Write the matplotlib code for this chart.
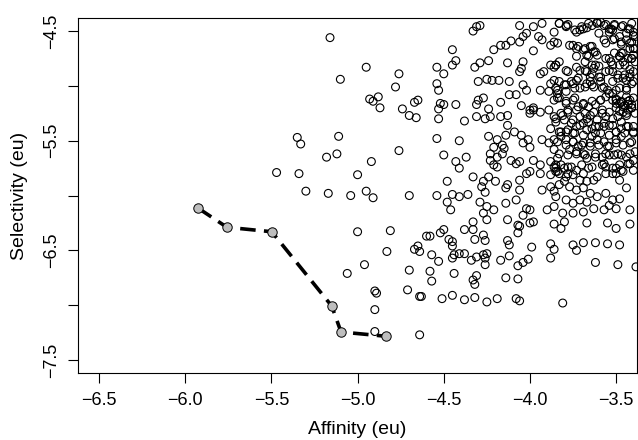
import numpy as np
import matplotlib as mpl
import matplotlib.pyplot as plt

plt.rcParams.update({
    'font.family': ['Liberation Sans', 'DejaVu Sans'],
    'axes.linewidth': 0.8,
})

# ----------------------------------------------------------------------
# data
# ----------------------------------------------------------------------
# sparse points on the left
sparse_x = [-5.35, -5.33, -5.47, -5.34, -5.30,
            -5.16, -4.95, -5.10, -4.76, -4.78, -4.93, -4.91, -4.88, -4.87,
            -4.74, -4.70, -4.66, -4.67, -4.65, -5.11, -5.18, -5.12, -4.92,
            -4.76, -5.00, -5.17, -5.04, -4.95, -4.91, -4.70,
            -4.54, -4.50, -4.54, -4.53, -4.45, -4.43, -4.45, -4.52, -4.53,
            -4.50, -4.53, -4.43, -4.38, -4.54, -4.41, -4.50, -4.37, -4.43,
            -4.41, -4.48, -4.54, -4.48, -4.45, -4.46, -4.41, -4.36, -4.33]
sparse_y = [-5.47, -5.53, -5.79, -5.80, -5.96,
            -4.56, -4.83, -4.94, -4.89, -5.01, -5.12, -5.14, -5.10, -5.20,
            -5.21, -5.27, -5.29, -5.15, -5.13, -5.46, -5.65, -5.62, -5.69,
            -5.59, -5.81, -5.98, -6.00, -5.96, -6.02, -6.00,
            -4.83, -4.89, -4.98, -5.04, -4.67, -4.77, -4.81, -5.16, -5.21,
            -5.17, -5.30, -5.17, -5.32, -5.48, -5.50, -5.63, -5.65, -5.69,
            -5.75, -5.87, -6.00, -6.06, -5.99, -6.13, -6.01, -5.99, -5.83]

# middle band
mid_x = [-4.33, -4.31, -4.29, -4.32, -4.29, -4.24,
         -4.21, -4.17, -4.14, -4.11, -4.06, -4.04, -4.02, -4.06,
         -3.98, -3.93, -3.95, -3.93, -3.88, -3.98,
         -4.30, -4.25, -4.22, -4.18, -4.12, -4.13, -4.06, -4.05, -4.04,
         -4.30, -4.27, -4.31, -4.24, -4.17, -4.31, -4.26, -4.23, -4.17, -4.13,
         -4.12, -4.08, -4.04, -4.02, -4.05, -4.00, -3.98, -4.00,
         -4.24, -4.19, -4.16, -4.21, -4.23, -4.16, -4.15, -4.19,
         -4.13, -4.14, -4.09, -4.05, -4.04, -4.00, -4.01,
         -4.23, -4.21, -4.19, -4.11, -4.08, -4.06,
         -4.24, -4.20, -4.14, -4.13, -4.06, -4.06, -4.02, -4.00,
         -4.27, -4.28, -4.26,
         -4.29, -4.25, -4.21, -4.27, -4.14, -4.08, -4.02, -4.00, -4.04]
mid_y = [-4.50, -4.46, -4.45, -4.83, -4.79, -4.77,
         -4.67, -4.63, -4.63, -4.59, -4.60, -4.55, -4.52, -4.45,
         -4.46, -4.43, -4.55, -4.58, -4.63, -4.68,
         -4.96, -4.94, -4.95, -4.95, -4.96, -4.79, -4.87, -4.84, -4.78,
         -5.13, -5.11, -5.17, -5.21, -5.15, -5.28, -5.30, -5.28, -5.28, -5.27,
         -5.08, -5.08, -4.99, -5.04, -5.18, -5.22, -5.20, -5.25,
         -5.46, -5.49, -5.54, -5.56, -5.62, -5.62, -5.57, -5.65,
         -5.36, -5.45, -5.42, -5.45, -5.52, -5.56, -5.49,
         -5.68, -5.72, -5.74, -5.68, -5.71, -5.69,
         -5.83, -5.87, -5.93, -5.90, -5.86, -5.95, -5.80, -5.78,
         -5.87, -5.92, -5.97,
         -6.06, -6.10, -6.13, -6.16, -6.07, -6.04, -6.12, -6.13, -6.18]

# dense cloud on the right
dense_x = [-3.86, -3.83, -3.79, -3.78, -3.73, -3.71, -3.69, -3.67, -3.64, -3.61,
           -3.59, -3.56, -3.54, -3.52, -3.51, -3.46, -3.43, -3.41, -3.40, -3.39,
           -3.86, -3.84, -3.77, -3.73, -3.69, -3.65, -3.60, -3.57, -3.56, -3.52,
           -3.48, -3.44, -3.42, -3.40, -3.67, -3.73, -3.63, -3.61, -3.56, -3.53,
           -3.48, -3.47, -3.41, -3.39,
           -3.94, -3.92, -3.88, -3.86, -3.85, -3.83, -3.79, -3.78, -3.73, -3.71,
           -3.67, -3.65, -3.63, -3.62, -3.59, -3.54, -3.52, -3.49, -3.46, -3.44,
           -3.42, -3.40, -3.41, -3.44, -3.86, -3.88, -3.85, -3.84, -3.80, -3.75,
           -3.73, -3.71, -3.67, -3.65, -3.63, -3.59, -3.57, -3.55, -3.52, -3.48,
           -3.44, -3.42, -3.40, -3.94, -3.89, -3.86, -3.83, -3.79, -3.75, -3.72,
           -3.69, -3.66, -3.62, -3.59, -3.56, -3.52, -3.50, -3.48, -3.46, -3.43,
           -3.41, -3.39,
           -3.98, -3.94, -3.89, -3.86, -3.85, -3.81, -3.78, -3.75, -3.71, -3.67,
           -3.65, -3.61, -3.58, -3.56, -3.52, -3.49, -3.44, -3.40, -3.88, -3.83,
           -3.78, -3.75, -3.73, -3.69, -3.67, -3.64, -3.62, -3.60, -3.57, -3.54,
           -3.50, -3.47, -3.44, -3.40, -3.93, -3.89, -3.86, -3.82, -3.79, -3.75,
           -3.72, -3.69, -3.65, -3.61, -3.57, -3.54, -3.50, -3.47, -3.42, -3.39,
           -3.86, -3.83, -3.77, -3.73, -3.69, -3.67, -3.62, -3.58, -3.54, -3.49,
           -3.44, -3.40,
           -3.98, -3.94, -3.88, -3.86, -3.85, -3.82, -3.78, -3.73, -3.69, -3.66,
           -3.61, -3.57, -3.56, -3.50, -3.47, -3.42, -3.94, -3.88, -3.85, -3.83,
           -3.79, -3.75, -3.71, -3.67, -3.63, -3.56, -3.52, -3.48, -3.93, -3.88,
           -3.86, -3.83, -3.80, -3.77, -3.73, -3.69, -3.65, -3.61, -3.56, -3.52,
           -3.48, -3.44, -3.85, -3.79, -3.75, -3.71, -3.67, -3.63, -3.57, -3.54,
           -3.50, -3.90, -3.86, -3.81, -3.75, -3.69, -3.42,
           -3.50, -3.47, -3.45, -3.43, -3.41, -3.48, -3.44, -3.42, -3.46, -3.43,
           -3.45, -3.42, -3.40, -3.47, -3.44]
dense_y = [-4.51, -4.43, -4.46, -4.44, -4.51, -4.49, -4.48, -4.47, -4.45, -4.43,
           -4.42, -4.44, -4.48, -4.49, -4.44, -4.45, -4.48, -4.43, -4.51, -4.55,
           -4.60, -4.61, -4.63, -4.66, -4.67, -4.64, -4.52, -4.58, -4.61, -4.58,
           -4.55, -4.52, -4.61, -4.66, -4.72, -4.73, -4.69, -4.72, -4.75, -4.78,
           -4.73, -4.70, -4.75, -4.78,
           -4.89, -4.87, -4.81, -4.83, -4.81, -4.78, -4.86, -4.87, -4.83, -4.86,
           -4.87, -4.92, -4.84, -4.81, -4.92, -4.86, -4.87, -4.90, -4.93, -4.95,
           -4.92, -4.87, -4.98, -5.04, -4.95, -4.98, -5.02, -5.07, -4.99, -4.98,
           -4.95, -5.02, -4.98, -4.96, -5.01, -4.96, -5.01, -5.04, -5.07, -5.02,
           -5.10, -5.13, -5.11, -5.04, -5.05, -5.13, -5.11, -5.16, -5.13, -5.19,
           -5.17, -5.19, -5.17, -5.13, -5.10, -5.13, -5.16, -5.16, -5.19, -5.22,
           -5.17, -5.25,
           -5.22, -5.24, -5.22, -5.28, -5.30, -5.27, -5.22, -5.31, -5.28, -5.30,
           -5.27, -5.31, -5.25, -5.28, -5.30, -5.28, -5.27, -5.37, -5.39, -5.42,
           -5.40, -5.43, -5.37, -5.34, -5.40, -5.39, -5.43, -5.37, -5.37, -5.36,
           -5.42, -5.39, -5.37, -5.43, -5.49, -5.52, -5.49, -5.46, -5.49, -5.51,
           -5.55, -5.52, -5.55, -5.49, -5.51, -5.55, -5.49, -5.46, -5.52, -5.60,
           -5.58, -5.62, -5.58, -5.60, -5.62, -5.66, -5.62, -5.65, -5.63, -5.62,
           -5.65, -5.68,
           -5.68, -5.72, -5.69, -5.74, -5.75, -5.72, -5.74, -5.77, -5.80, -5.75,
           -5.83, -5.71, -5.74, -5.75, -5.77, -5.71, -5.80, -5.81, -5.78, -5.80,
           -5.83, -5.81, -5.86, -5.87, -5.86, -5.80, -5.80, -5.86, -5.95, -5.92,
           -5.96, -5.90, -5.87, -5.92, -5.95, -5.93, -5.98, -6.01, -5.98, -6.04,
           -6.03, -5.93, -6.01, -6.04, -6.07, -6.04, -6.06, -6.12, -6.13, -6.09,
           -6.12, -6.13, -6.10, -6.16, -6.16, -6.15, -6.13,
           -5.12, -5.15, -5.18, -5.14, -5.20, -5.23, -5.25, -4.66, -4.70, -4.75,
           -4.81, -4.85, -4.72, -4.62, -4.58]

# extra points from the crowded top-right corner
top_right_x = [-3.83, -3.79, -3.74, -3.70, -3.66, -3.61, -3.57, -3.53, -3.51, -3.47,
               -3.42, -3.40, -3.41, -3.47, -3.51, -3.54, -3.72, -3.75, -3.68, -3.64,
               -3.62, -3.66, -3.68, -3.64, -3.60, -3.54, -3.51, -3.48, -3.46, -3.48,
               -3.52, -3.56, -3.60, -3.64, -3.68, -3.72, -3.76, -3.79, -3.83, -3.85,
               -3.84, -3.79, -3.74, -3.68, -3.64, -3.58, -3.52, -3.49, -3.45, -3.42,
               -3.40, -3.44, -3.50, -3.54, -3.41, -3.39]
top_right_y = [-4.43, -4.45, -4.49, -4.46, -4.43, -4.42, -4.45, -4.48, -4.45, -4.46,
               -4.48, -4.54, -4.60, -4.60, -4.57, -4.51, -4.64, -4.63, -4.66, -4.64,
               -4.69, -4.73, -4.78, -4.81, -4.82, -4.75, -4.70, -4.73, -4.78, -4.81,
               -4.81, -4.87, -4.92, -4.89, -4.86, -4.93, -4.96, -4.99, -4.96, -4.81,
               -5.04, -5.05, -5.02, -5.01, -4.99, -5.02, -4.96, -4.93, -4.90, -4.89,
               -4.96, -5.02, -5.04, -5.07, -4.75, -4.66]

# extra points from the crowded right-middle block
mid_right_x = [-3.84, -3.79, -3.74, -3.69, -3.64, -3.59, -3.50, -3.47, -3.43, -3.41,
               -3.46, -3.50, -3.54, -3.58, -3.63, -3.68, -3.73, -3.78, -3.82, -3.85,
               -3.80, -3.76, -3.71, -3.66, -3.62, -3.57, -3.52, -3.47, -3.43, -3.40,
               -3.45, -3.50, -3.54, -3.59, -3.64, -3.69, -3.74, -3.79, -3.82, -3.84,
               -3.79, -3.75, -3.70, -3.65, -3.60, -3.55, -3.50, -3.46, -3.41, -3.42,
               -3.47, -3.51, -3.56, -3.62, -3.68, -3.73, -3.78, -3.84, -3.85, -3.80,
               -3.76, -3.70, -3.64, -3.58, -3.52, -3.48, -3.43, -3.40, -3.46, -3.50,
               -3.84, -3.78]
mid_right_y = [-5.11, -5.14, -5.11, -5.16, -5.14, -5.13, -5.13, -5.14, -5.17, -5.20,
               -5.24, -5.20, -5.24, -5.22, -5.24, -5.25, -5.22, -5.24, -5.25, -5.33,
               -5.31, -5.34, -5.36, -5.33, -5.37, -5.34, -5.36, -5.33, -5.37, -5.42,
               -5.43, -5.42, -5.45, -5.43, -5.46, -5.45, -5.43, -5.42, -5.42, -5.51,
               -5.54, -5.51, -5.54, -5.52, -5.54, -5.55, -5.52, -5.54, -5.51, -5.62,
               -5.63, -5.63, -5.62, -5.65, -5.63, -5.62, -5.63, -5.66, -5.72, -5.75,
               -5.74, -5.72, -5.74, -5.72, -5.75, -5.72, -5.71, -5.77, -5.78, -5.80,
               -5.78, -5.80]

# lower part of the cloud
low_x = [-5.00, -4.81, -4.83, -4.96, -5.06, -4.70, -4.90, -4.89, -4.90, -4.90,
         -4.64, -4.71, -4.64, -4.63, -4.67, -4.65, -4.64, -4.60, -4.58, -4.52,
         -4.50, -4.47, -4.45, -4.45, -4.57, -4.53, -4.58, -4.57, -4.44, -4.45,
         -4.41, -4.38, -4.44, -4.51, -4.45, -4.38, -4.32, -4.25, -4.19, -4.08,
         -4.06, -4.33, -4.31, -4.32, -4.34, -4.31, -4.27, -4.25, -4.26, -4.26,
         -4.38, -4.33, -4.32, -4.27, -4.26, -4.17, -4.12, -4.13, -4.12, -4.14,
         -4.07, -4.07, -4.04, -4.01, -3.99, -4.07, -4.06, -4.00, -3.98, -3.86,
         -3.82, -3.80, -3.88, -3.86, -3.88, -3.75, -3.73, -3.69, -3.62, -3.55,
         -3.48, -3.62, -3.49, -3.81, -3.67, -3.55, -3.50, -3.42, -4.33, -4.25,
         -4.13, -4.07, -3.385]
low_y = [-6.33, -6.32, -6.51, -6.63, -6.71, -6.68, -6.87, -6.89, -7.04, -7.24,
         -7.27, -6.86, -6.92, -6.92, -6.49, -6.46, -6.51, -6.37, -6.37, -6.34,
         -6.31, -6.40, -6.42, -6.46, -6.54, -6.60, -6.69, -6.78, -6.54, -6.57,
         -6.53, -6.53, -6.71, -6.94, -6.91, -6.95, -6.93, -6.97, -6.94, -6.94,
         -6.96, -6.77, -6.73, -6.81, -6.59, -6.56, -6.54, -6.53, -6.57, -6.63,
         -6.31, -6.31, -6.40, -6.36, -6.41, -6.59, -6.55, -6.41, -6.45, -6.75,
         -6.76, -6.64, -6.61, -6.58, -6.47, -6.34, -6.28, -6.25, -6.24, -6.26,
         -6.30, -6.24, -6.44, -6.49, -6.57, -6.45, -6.50, -6.43, -6.43, -6.44,
         -6.45, -6.61, -6.63, -6.98, -6.25, -6.25, -6.30, -6.26, -6.24, -6.22,
         -6.22, -6.27, -6.65]

# optimisation path (gray points joined by a dashed line)
path_x = [-5.924, -5.758, -5.498, -5.150, -5.096, -4.835]
path_y = [-6.116, -6.289, -6.330, -7.007, -7.244, -7.283]

xticks = [-6.5, -6.0, -5.5, -5.0, -4.5, -4.0, -3.5]
yticks = [-4.5, -5.0, -5.5, -6.0, -6.5, -7.0, -7.5]
yticklabels = ['\u22124.5', '', '\u22125.5', '', '\u22126.5', '', '\u22127.5']

# ----------------------------------------------------------------------
# plotting
# ----------------------------------------------------------------------
fig = plt.figure(figsize=(6.38, 4.4), dpi=100)
ax = fig.add_axes([78/638, 67/440, 559/638, 355/440])

cloud_x = sparse_x + mid_x + dense_x + top_right_x + mid_right_x + low_x
cloud_y = sparse_y + mid_y + dense_y + top_right_y + mid_right_y + low_y
ax.scatter(cloud_x, cloud_y, s=32, facecolors='none', edgecolors='black',
           linewidths=0.8, zorder=2)

ax.plot(path_x, path_y, color='black', lw=2.6, ls=(0, (4.3, 2.3)), zorder=3)
ax.scatter(path_x, path_y, s=46, facecolors='#bebebe', edgecolors='black',
           linewidths=0.7, zorder=4)

ax.set_xlim(-6.622, -3.379)
ax.set_ylim(-7.618, -4.381)

ax.set_xticks(xticks)
ax.set_xticklabels([f'{t:.1f}'.replace('-', '\u2212') for t in xticks])
ax.set_yticks(yticks)
ax.set_yticklabels(yticklabels, rotation=90, va='center')

ax.tick_params(direction='out', length=7, width=0.8, labelsize=13, pad=7)
ax.tick_params(axis='y', pad=6)

ax.set_xlabel('Affinity (eu)', fontsize=14, labelpad=8)
ax.set_ylabel('Selectivity (eu)', fontsize=14, labelpad=11)

plt.savefig('out.png', dpi=100)
plt.close()
